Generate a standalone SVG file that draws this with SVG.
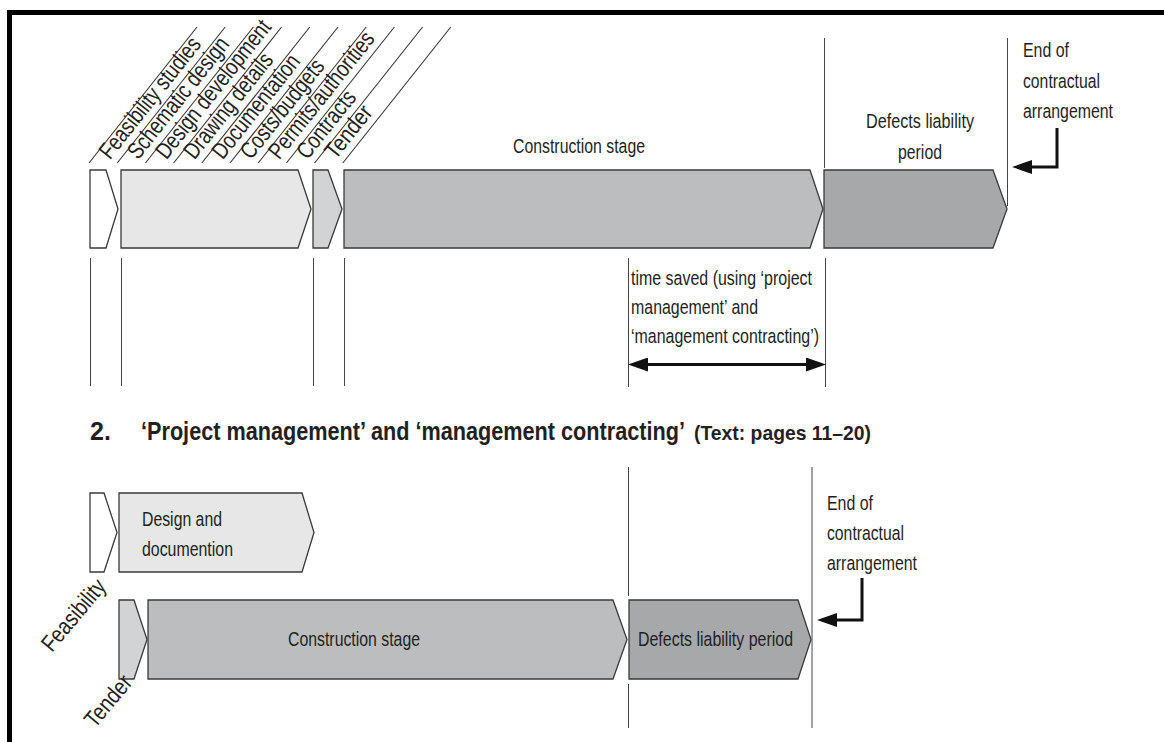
<svg xmlns="http://www.w3.org/2000/svg" width="1164" height="742" viewBox="0 0 1164 742">
  <defs>
    <style>
      .t { font-family: "Liberation Sans Narrow", "Liberation Sans", Arial, sans-serif; font-size: 20.5px; fill: #231f20; }
      .d { font-family: "Liberation Sans Narrow", "Liberation Sans", Arial, sans-serif; font-size: 23.5px; fill: #231f20; }
      .h { font-family: "Liberation Sans Narrow", "Liberation Sans", Arial, sans-serif; font-weight: bold; fill: #231f20; }
      .box { stroke: #3a3a3a; stroke-width: 1.3; stroke-linejoin: miter; }
      .w { fill: #ffffff; }
      .l1 { fill: #e7e7e7; }
      .l2 { fill: #d2d3d5; }
      .l3 { fill: #bcbdbf; }
      .l4 { fill: #a7a8aa; }
      .rule { stroke: #444; stroke-width: 1; fill: none; }
      .diag { stroke: #333; stroke-width: 1.1; fill: none; }
      .arr { stroke: #111; stroke-width: 3; fill: none; }
    </style>
    <marker id="head" viewBox="0 0 20 14" refX="0" refY="7" markerWidth="20" markerHeight="14" markerUnits="userSpaceOnUse" orient="auto-start-reverse">
      <path d="M0,0 L20,7 L0,14 Z" fill="#111"/>
    </marker>
  </defs>

  <rect width="1164" height="742" fill="#ffffff"/>
  <!-- frame -->
  <path d="M9.5,742 V12.5 H1164" fill="none" stroke="#000" stroke-width="5"/>

  <!-- diagonal stage label guides -->
  <g id="stage-guides" class="diag">
    <line x1="89" y1="163" x2="197" y2="27"/>
    <line x1="117.2" y1="163" x2="225.2" y2="27"/>
    <line x1="145.4" y1="163" x2="253.4" y2="27"/>
    <line x1="173.6" y1="163" x2="281.6" y2="27"/>
    <line x1="201.8" y1="163" x2="309.8" y2="27"/>
    <line x1="230" y1="163" x2="338" y2="27"/>
    <line x1="258.2" y1="163" x2="366.2" y2="27"/>
    <line x1="286.4" y1="163" x2="394.4" y2="27"/>
    <line x1="314.6" y1="163" x2="422.6" y2="27"/>
    <line x1="342.8" y1="163" x2="450.8" y2="27"/>
  </g>
  <g id="stage-labels" class="d">
    <text transform="translate(110,160.5) rotate(-51.5)" textLength="148" lengthAdjust="spacingAndGlyphs">Feasibility studies</text>
    <text transform="translate(138.2,160.5) rotate(-51.5)" textLength="148" lengthAdjust="spacingAndGlyphs">Schematic design</text>
    <text transform="translate(166.4,160.5) rotate(-51.5)" textLength="170" lengthAdjust="spacingAndGlyphs">Design development</text>
    <text transform="translate(194.6,160.5) rotate(-51.5)" textLength="128" lengthAdjust="spacingAndGlyphs">Drawing details</text>
    <text transform="translate(222.8,160.5) rotate(-51.5)" textLength="126" lengthAdjust="spacingAndGlyphs">Documentation</text>
    <text transform="translate(251,160.5) rotate(-51.5)" textLength="120" lengthAdjust="spacingAndGlyphs">Costs/budgets</text>
    <text transform="translate(279.2,160.5) rotate(-51.5)" textLength="155" lengthAdjust="spacingAndGlyphs">Permits/authorities</text>
    <text transform="translate(307.4,160.5) rotate(-51.5)" textLength="80" lengthAdjust="spacingAndGlyphs">Contracts</text>
    <text transform="translate(335.6,160.5) rotate(-51.5)" textLength="61" lengthAdjust="spacingAndGlyphs">Tender</text>
  </g>

  <!-- traditional sequence -->
  <g id="t-feasibility"><path class="box w" d="M90,170 H106 L118,209 L106,248 H90 Z"/></g>
  <g id="t-design"><path class="box l1" d="M121,170 H298 L311,209 L298,248 H121 Z"/></g>
  <g id="t-tender"><path class="box l2" d="M313,170 H328 L342,209 L328,248 H313 Z"/></g>
  <g id="t-construction">
    <path class="box l3" d="M344,170 H810 L823,209 L810,248 H344 Z"/>
    <text class="t" x="513" y="153" textLength="132" lengthAdjust="spacingAndGlyphs">Construction stage</text>
  </g>
  <g id="t-defects">
    <path class="box l4" d="M824,170 H993 L1007,209 L993,248 H824 Z"/>
    <text class="t" x="866" y="128" textLength="108" lengthAdjust="spacingAndGlyphs">Defects liability</text>
    <text class="t" x="898" y="159" textLength="44" lengthAdjust="spacingAndGlyphs">period</text>
  </g>
  <g id="t-end">
    <text class="t" x="1023" y="57" textLength="46" lengthAdjust="spacingAndGlyphs">End of</text>
    <text class="t" x="1023" y="88" textLength="77" lengthAdjust="spacingAndGlyphs">contractual</text>
    <text class="t" x="1023" y="118" textLength="90" lengthAdjust="spacingAndGlyphs">arrangement</text>
  </g>
  <g id="t-saved">
    <text class="t" x="631" y="285" textLength="181" lengthAdjust="spacingAndGlyphs">time saved (using ‘project</text>
    <text class="t" x="631" y="314" textLength="127" lengthAdjust="spacingAndGlyphs">management’ and</text>
    <text class="t" x="631" y="343" textLength="188" lengthAdjust="spacingAndGlyphs">‘management contracting’)</text>
  </g>

  <!-- heading -->
  <g id="heading" class="h">
    <text x="90" y="440" font-size="25">2.</text>
    <text x="141" y="440" font-size="25" textLength="544" lengthAdjust="spacingAndGlyphs">‘Project management’ and ‘management contracting’</text>
    <text x="694" y="440" font-size="21" textLength="177" lengthAdjust="spacingAndGlyphs">(Text: pages 11–20)</text>
  </g>

  <!-- overlapped sequence -->
  <g id="p-feasibility">
    <path class="box w" d="M90,493 H104 L117,532.5 L104,572 H90 Z"/>
    <text class="d" transform="translate(52,653) rotate(-50)" textLength="86" lengthAdjust="spacingAndGlyphs">Feasibility</text>
  </g>
  <g id="p-design">
    <path class="box l1" d="M119,493 H302 L314,532.5 L302,572 H119 Z"/>
    <text class="t" x="142" y="526" textLength="80" lengthAdjust="spacingAndGlyphs">Design and</text>
    <text class="t" x="142" y="556" textLength="91" lengthAdjust="spacingAndGlyphs">documention</text>
  </g>
  <g id="p-tender">
    <path class="box l2" d="M119,600 H134 L147,639.5 L134,679 H119 Z"/>
    <text class="d" transform="translate(95,729) rotate(-50)" textLength="60" lengthAdjust="spacingAndGlyphs">Tender</text>
  </g>
  <g id="p-construction">
    <path class="box l3" d="M148,600 H613 L627,639.5 L613,679 H148 Z"/>
    <text class="t" x="288" y="646" textLength="132" lengthAdjust="spacingAndGlyphs">Construction stage</text>
  </g>
  <g id="p-defects">
    <path class="box l4" d="M629,600 H798 L811,639.5 L798,679 H629 Z"/>
    <text class="t" x="638" y="646" textLength="155" lengthAdjust="spacingAndGlyphs">Defects liability period</text>
  </g>
  <g id="p-end">
    <text class="t" x="827" y="510" textLength="46" lengthAdjust="spacingAndGlyphs">End of</text>
    <text class="t" x="827" y="540" textLength="77" lengthAdjust="spacingAndGlyphs">contractual</text>
    <text class="t" x="827" y="570" textLength="90" lengthAdjust="spacingAndGlyphs">arrangement</text>
  </g>

  <!-- connectors: rules and arrows -->
  <g id="connectors">
    <g class="rule">
      <line x1="824.5" y1="38" x2="824.5" y2="168"/>
      <line x1="1007.5" y1="38" x2="1007.5" y2="206"/>
      <line x1="90.5" y1="258" x2="90.5" y2="386"/>
      <line x1="121.5" y1="258" x2="121.5" y2="386"/>
      <line x1="313.5" y1="258" x2="313.5" y2="386"/>
      <line x1="344.5" y1="258" x2="344.5" y2="386"/>
      <line x1="628.5" y1="258" x2="628.5" y2="387"/>
      <line x1="825.5" y1="258" x2="825.5" y2="387"/>
      <line x1="628.5" y1="467" x2="628.5" y2="596"/>
      <line x1="628.5" y1="684" x2="628.5" y2="728"/>
      <line x1="812" y1="467" x2="812" y2="728"/>
    </g>
    <path class="arr" d="M1057,128 V167 H1032" marker-end="url(#head)"/>
    <path class="arr" d="M648,364.5 H806" marker-start="url(#head)" marker-end="url(#head)"/>
    <path class="arr" d="M862,578 V620 H837" marker-end="url(#head)"/>
  </g>
</svg>
